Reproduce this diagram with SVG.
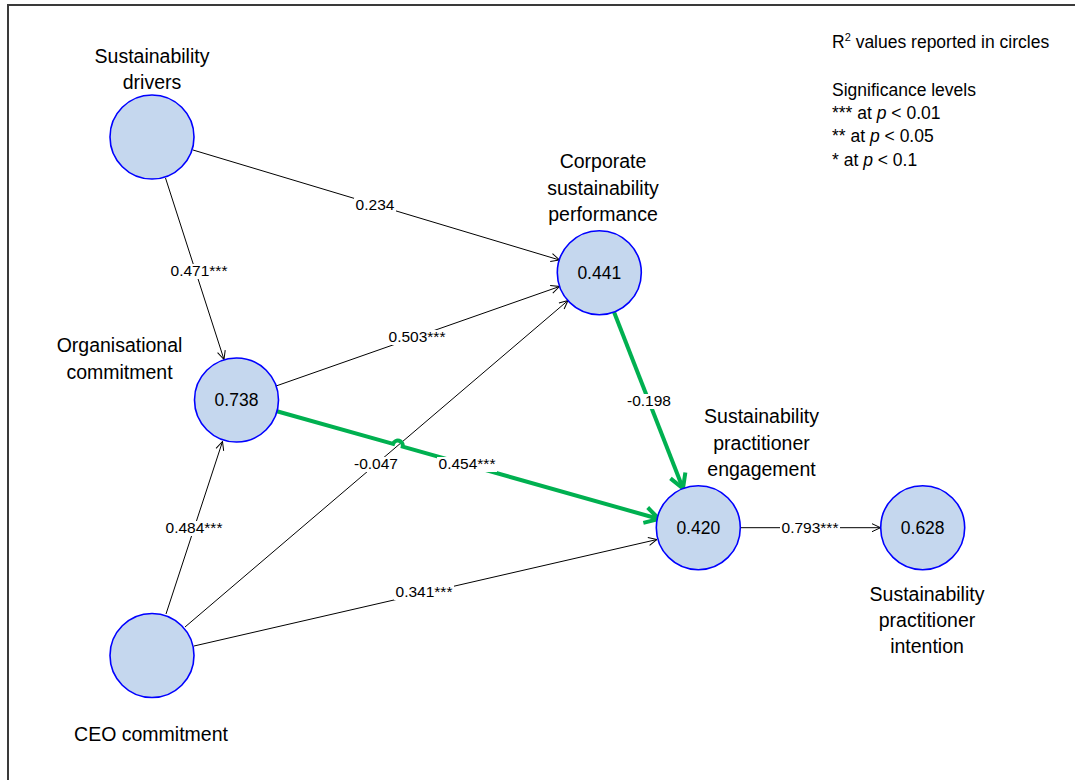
<svg xmlns="http://www.w3.org/2000/svg" width="1075" height="780" viewBox="0 0 1075 780">
<style>
text{font-family:"Liberation Sans",Arial,sans-serif;fill:#000}
.lbl{font-size:19.5px;text-anchor:middle}
.val{font-size:17.5px;text-anchor:middle}
.el{font-size:15.5px;text-anchor:middle}
.bg{fill:#fff;stroke:none}
.leg{font-size:17.5px}
.node{fill:#C5D7EE;stroke:#0000FF;stroke-width:1.6}
.thin{fill:none;stroke:#000;stroke-width:1;marker-end:url(#ah)}
.grn{fill:none;stroke:#00B050;stroke-width:4;marker-end:url(#ahg)}
</style>
<defs>
<marker id="ah" viewBox="0 0 10 10" refX="9.5" refY="5" markerWidth="10" markerHeight="10" markerUnits="userSpaceOnUse" orient="auto">
<path d="M1,1 L9.5,5 L1,9" fill="none" stroke="#000" stroke-width="1"/>
</marker>
<marker id="ahg" viewBox="0 0 22 22" refX="18" refY="11" markerWidth="22" markerHeight="22" markerUnits="userSpaceOnUse" orient="auto">
<path d="M4,3 L18,11 L4,19" fill="none" stroke="#00B050" stroke-width="4" stroke-linejoin="miter" stroke-linecap="butt"/>
</marker>
</defs>
<rect x="0" y="0" width="1075" height="780" fill="#fff"/>
<rect x="8" y="5" width="1100" height="800" fill="none" stroke="#3a3a3a" stroke-width="2"/>

<g id="connectors">
<path class="thin" d="M193,150 L559.5,260"/>
<path class="thin" d="M165.5,178 L224,359.5"/>
<path class="thin" d="M276,386 L559.5,286.5"/>
<path class="thin" d="M185,627 L568,300.5"/>
<path class="thin" d="M166,614 L222.5,441.5"/>
<path class="thin" d="M194,646 L657,539.5"/>
<path class="thin" d="M740.5,527.7 L880.5,527.7"/>
<path class="grn" d="M276,411 L393.1,443.9 A5,5 0 0 1 402.7,446.6 L659,519"/>
<path class="grn" d="M614,312 L683,488.5"/>
<rect class="bg" x="354" y="198" width="42" height="15"/>
<text class="el" x="375" y="210">0.234</text>
<rect class="bg" x="169" y="264" width="60" height="15"/>
<text class="el" x="199" y="276">0.471***</text>
<rect class="bg" x="387" y="330" width="60" height="15"/>
<text class="el" x="417" y="342">0.503***</text>
<rect class="bg" x="353" y="457" width="46" height="15"/>
<text class="el" x="376" y="469">-0.047</text>
<rect class="bg" x="437" y="457" width="60" height="15"/>
<text class="el" x="467" y="469">0.454***</text>
<rect class="bg" x="626" y="394" width="46" height="15"/>
<text class="el" x="649" y="406">-0.198</text>
<rect class="bg" x="164" y="521" width="60" height="15"/>
<text class="el" x="194" y="533">0.484***</text>
<rect class="bg" x="394" y="585" width="60" height="15"/>
<text class="el" x="424" y="597">0.341***</text>
<rect class="bg" x="780" y="521" width="60" height="15"/>
<text class="el" x="810" y="533">0.793***</text>
</g>

<g id="sustainability-drivers">
<circle class="node" cx="152" cy="137" r="42"/>
<text class="lbl" x="152" y="63">Sustainability</text>
<text class="lbl" x="152" y="89">drivers</text>
</g>

<g id="organisational-commitment">
<circle class="node" cx="236.5" cy="400" r="42"/>
<text class="val" x="236.5" y="406.3">0.738</text>
<text class="lbl" x="119.5" y="352">Organisational</text>
<text class="lbl" x="119.5" y="378.5">commitment</text>
</g>

<g id="ceo-commitment">
<circle class="node" cx="152" cy="655.5" r="42"/>
<text class="lbl" x="151" y="741">CEO commitment</text>
</g>

<g id="corporate-sustainability-performance">
<circle class="node" cx="599.3" cy="272.7" r="42"/>
<text class="val" x="599.3" y="279">0.441</text>
<text class="lbl" x="603" y="168">Corporate</text>
<text class="lbl" x="603" y="194.5">sustainability</text>
<text class="lbl" x="603" y="221">performance</text>
</g>

<g id="sustainability-practitioner-engagement">
<circle class="node" cx="698.3" cy="527.7" r="42"/>
<text class="val" x="698.3" y="534">0.420</text>
<text class="lbl" x="761.5" y="423">Sustainability</text>
<text class="lbl" x="761.5" y="449.5">practitioner</text>
<text class="lbl" x="761.5" y="476">engagement</text>
</g>

<g id="sustainability-practitioner-intention">
<circle class="node" cx="922.7" cy="527.7" r="42"/>
<text class="val" x="922.7" y="534">0.628</text>
<text class="lbl" x="927" y="601">Sustainability</text>
<text class="lbl" x="927" y="627.3">practitioner</text>
<text class="lbl" x="927" y="653.3">intention</text>
</g>

<g id="legend">
<text class="leg" x="832" y="47.5">R<tspan font-size="11px" dy="-7">2</tspan><tspan dy="7"> values reported in circles</tspan></text>
<text class="leg" x="832" y="95.5">Significance levels</text>
<text class="leg" x="832" y="119">*** at <tspan font-style="italic">p</tspan> &lt; 0.01</text>
<text class="leg" x="832" y="142.3">** at <tspan font-style="italic">p</tspan> &lt; 0.05</text>
<text class="leg" x="832" y="165.7">* at <tspan font-style="italic">p</tspan> &lt; 0.1</text>
</g>
</svg>
